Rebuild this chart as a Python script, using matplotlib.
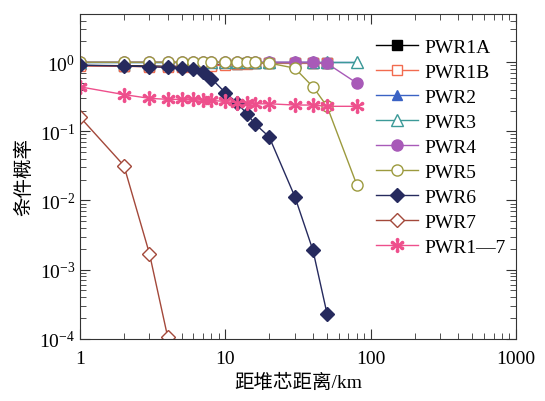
import numpy as np
import matplotlib.pyplot as plt
from matplotlib.ticker import LogLocator, NullFormatter

plt.rcParams['font.family'] = ['Liberation Serif', 'Noto Sans CJK SC']
plt.rcParams['mathtext.fontset'] = 'stix'

# 距离 (km)
dist = [1, 2, 3, 4, 5, 6, 7, 8, 10, 12, 14, 16, 20, 30, 40, 50, 80]
dist1 = [1, 2, 3, 4, 5, 6, 7, 8, 10, 12, 14, 16, 20, 30, 40, 50]
pwr1a = [0.90, 0.89, 0.88, 0.87, 0.87, 0.87, 0.88, 0.90, 0.93, 0.95, 0.96, 0.97, 0.97, 0.97, 0.97, 0.97]
pwr1b = [0.88, 0.87, 0.86, 0.85, 0.85, 0.86, 0.87, 0.89, 0.92, 0.94, 0.95, 0.96, 0.96, 0.96, 0.96, 0.96]
pwr2 = [1.0, 1.0, 1.0, 1.0, 1.0, 1.0, 1.0, 1.0, 1.0, 1.0, 1.0, 1.0, 1.0, 1.0, 1.0, 1.0, 1.0]
pwr3 = [1.0, 1.0, 1.0, 1.0, 1.0, 1.0, 1.0, 1.0, 1.0, 1.0, 1.0, 1.0, 1.0, 1.0, 1.0, 1.0, 1.0]
pwr4 = [1.0, 1.0, 1.0, 1.0, 1.0, 1.0, 1.0, 1.0, 1.0, 1.0, 1.0, 1.0, 1.0, 1.0, 1.0, 0.96, 0.50]
pwr5 = [1.0, 1.0, 1.0, 1.0, 1.0, 1.0, 1.0, 1.0, 1.0, 1.0, 1.0, 1.0, 0.97, 0.82, 0.44, 0.23, 0.017]
pwr1_7 = [0.44, 0.34, 0.30, 0.29, 0.29, 0.29, 0.28, 0.28, 0.27, 0.26, 0.26, 0.25, 0.25, 0.24, 0.24, 0.23, 0.23]

dist6 = [1, 2, 3, 4, 5, 6, 7, 8, 10, 12, 14, 16, 20, 30, 40, 50]
pwr6 = [0.90, 0.88, 0.86, 0.84, 0.82, 0.79, 0.72, 0.58, 0.36, 0.26, 0.18, 0.128, 0.083, 0.0114, 0.0019, 0.00023]

dist7 = [1, 2, 3, 4]
pwr7 = [0.16, 0.032, 0.0017, 0.000107]

fig = plt.figure(figsize=(5.45, 4.02), dpi=100)
ax = fig.add_axes([0.147, 0.155, 0.8, 0.808])

ms = 7
ax.plot(dist1, pwr1a, '-s', color='#000000', ms=ms, lw=1, label='PWR1A')
ax.plot(dist1, pwr1b, '-s', color='#f26b4f', mfc='white', ms=ms, lw=1, label='PWR1B')
ax.plot(dist, pwr2, '-^', color='#3a62c4', ms=ms, lw=1, label='PWR2')
ax.plot(dist, pwr3, '-^', color='#3c9a98', mfc='white', ms=ms + 1, lw=1, label='PWR3')
ax.plot(dist, pwr4, '-o', color='#a85ab8', ms=ms + 1, lw=1, label='PWR4')
ax.plot(dist, pwr5, '-o', color='#9c9a3e', mfc='white', ms=ms + 1, lw=1, label='PWR5')
ax.plot(dist6, pwr6, '-D', color='#262a5e', ms=ms, lw=1, label='PWR6')
ax.plot(dist7, pwr7, '-D', color='#a3483a', mfc='white', ms=ms, lw=1, label='PWR7')
ax.plot(dist, pwr1_7, color='#ee4f8c', ms=ms + 3, lw=1, label='PWR1\u20147',
        marker=r'$\ast$')

ax.set_xscale('log')
ax.set_yscale('log')
ax.set_xlim(1, 1000)
ax.set_ylim(1e-4, 5.0)
ax.xaxis.set_minor_locator(LogLocator(base=10, subs=np.arange(2, 10), numticks=20))
ax.yaxis.set_minor_locator(LogLocator(base=10, subs=np.arange(2, 10), numticks=20))
ax.xaxis.set_minor_formatter(NullFormatter())
ax.yaxis.set_minor_formatter(NullFormatter())
ax.set_xticks([1, 10, 100, 1000])
ax.set_xticklabels(['1', '10', '100', '1000'])
ax.set_yticks([1e-4, 1e-3, 1e-2, 1e-1, 1])
ax.tick_params(which='both', direction='in', top=True, right=True, labelsize=14, color='#333333')
ax.tick_params(which='major', length=7)
ax.tick_params(which='minor', length=4)
ax.tick_params(axis='x', pad=8)
for s in ax.spines.values():
    s.set_color('#333333')

ax.set_xlabel('距堆芯距离/km', fontsize=14)
ax.set_ylabel('条件概率', fontsize=14)

ax.legend(loc='upper left', bbox_to_anchor=(0.66, 0.95), frameon=False, fontsize=14,
          handlelength=2.2, labelspacing=0.38, handletextpad=0.3, borderaxespad=0)

fig.savefig('out.png', dpi=100)
